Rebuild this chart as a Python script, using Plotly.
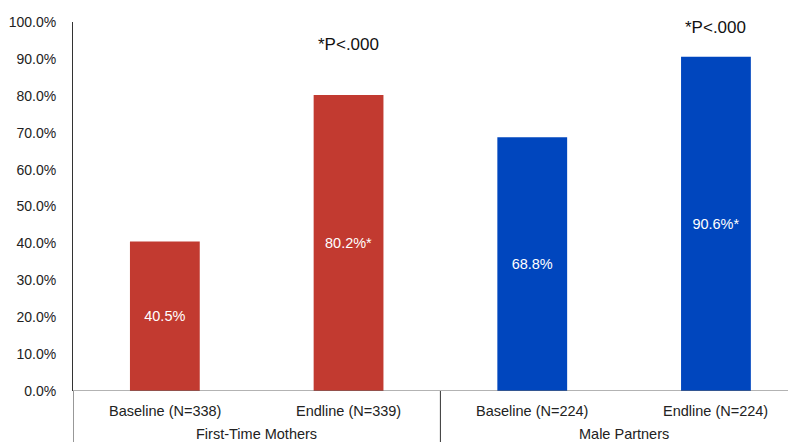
import plotly.graph_objects as go

groups = ["First-Time Mothers", "Male Partners"]
categories = ["Baseline (N=338)", "Endline (N=339)", "Baseline (N=224)", "Endline (N=224)"]
values = [40.5, 80.2, 68.8, 90.6]
bar_labels = ["40.5%", "80.2%*", "68.8%", "90.6%*"]
bar_colors = ["#C23A30", "#C23A30", "#0046BE", "#0046BE"]
sig_text = ["", "*P<.000", "", "*P<.000"]
sig_y = [None, 93.8, None, 98.6]
y_ticks = [0, 10, 20, 30, 40, 50, 60, 70, 80, 90, 100]

xpos = list(range(len(categories)))
font = "Liberation Sans, Arial, sans-serif"

fig = go.Figure()
fig.add_trace(go.Bar(
    x=xpos, y=values, marker=dict(color=bar_colors, line=dict(width=0)),
    width=0.38, text=bar_labels, textposition="inside", insidetextanchor="middle",
    textfont=dict(color="white", size=14.5, family=font), hoverinfo="skip",
))

# page body adds an 8px offset; figure spans 788x434 starting at (8, 8)
slot_px = 183.7
plot_w = 796 - 73
x_max = -0.5 + plot_w / slot_px
plot_h = 391 - 22

fig.update_layout(
    width=788, height=434, margin=dict(l=65, r=0, t=14, b=434 - 14 - plot_h),
    plot_bgcolor="white", paper_bgcolor="white", showlegend=False,
    font=dict(family=font, size=14, color="#222"),
    xaxis=dict(range=[-0.5, x_max], showticklabels=False, showgrid=False,
               zeroline=False, showline=False, ticks=""),
    yaxis=dict(range=[0, 100], tickvals=y_ticks,
               ticktext=[f"{v:.1f}%" for v in y_ticks],
               showgrid=False, zeroline=False, showline=True, linecolor="#333",
               linewidth=1, ticks="", ticklabelstandoff=13,
               tickfont=dict(size=14, family=font, color="#222")),
)

fig.add_shape(type="line", xref="paper", yref="y", x0=0, x1=1, y0=0, y1=0,
              line=dict(color="#666", width=1))
for xd in [-0.5, 1.5]:
    fig.add_shape(type="line", xref="x", yref="paper", x0=xd, x1=xd, y0=0, y1=-0.16,
                  line=dict(color="#333", width=1))

px_to_paper = 1.0 / plot_h
for i, c in enumerate(categories):
    fig.add_annotation(x=i, xref="x", y=-(411 - 391) * px_to_paper, yref="paper", text=c,
                       showarrow=False, font=dict(size=14.5, family=font, color="#222"),
                       yanchor="middle")
for g, gi in enumerate(groups):
    fig.add_annotation(x=0.5 + 2 * g, xref="x", y=-(434 - 391) * px_to_paper, yref="paper",
                       text=gi, showarrow=False,
                       font=dict(size=14.5, family=font, color="#222"), yanchor="middle")
for i, t in enumerate(sig_text):
    if t:
        fig.add_annotation(x=i, xref="x", y=sig_y[i], yref="y", text=t, showarrow=False,
                           font=dict(size=17, family=font, color="#111"), yanchor="middle")

fig.write_html("out.html")
